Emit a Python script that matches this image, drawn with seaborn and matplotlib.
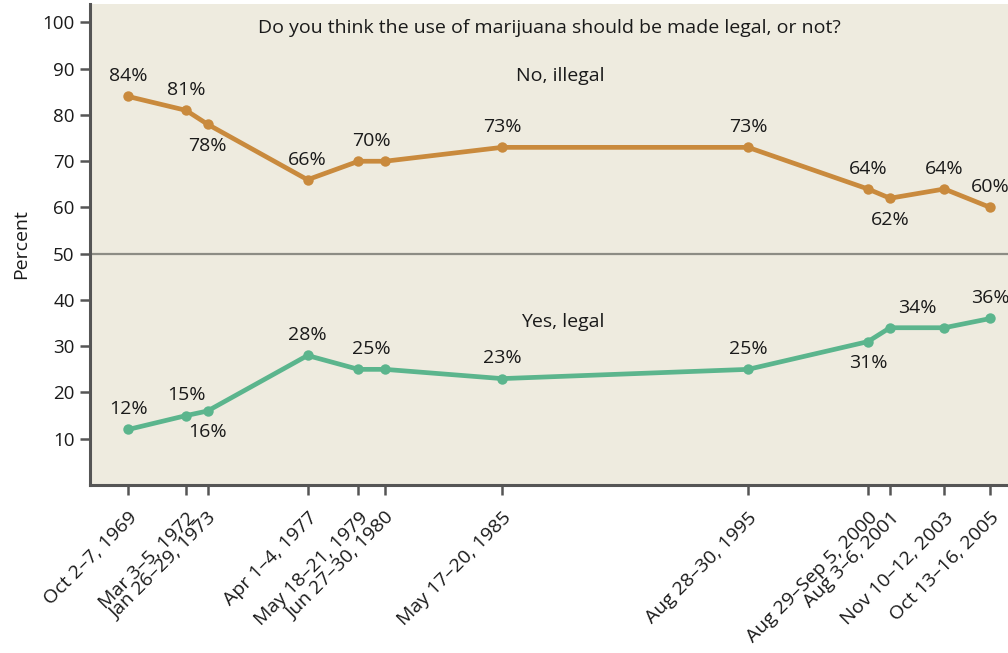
import matplotlib
matplotlib.use("Agg")
import matplotlib.pyplot as plt
import seaborn as sns
import pandas as pd
import numpy as np

# ---- data ----
date_labels = ["Oct 2\u20137, 1969", "Mar 3\u20135, 1972", "Jan 26\u201329, 1973",
               "Apr 1\u20134, 1977", "May 18\u201321, 1979", "Jun 27\u201330, 1980",
               "May 17\u201320, 1985", "Aug 28\u201330, 1995", "Aug 29\u2013Sep 5, 2000",
               "Aug 3\u20136, 2001", "Nov 10\u201312, 2003", "Oct 13\u201316, 2005"]
survey_dates = ["1969-10-04", "1972-03-04", "1973-01-27", "1977-04-02", "1979-05-19",
                "1980-06-28", "1985-05-18", "1995-08-29", "2000-09-01", "2001-08-04",
                "2003-11-11", "2005-10-14"]
illegal = [84, 81, 78, 66, 70, 70, 73, 73, 64, 62, 64, 60]
legal = [12, 15, 16, 28, 25, 25, 23, 25, 31, 34, 34, 36]
series_names = ["No, illegal", "Yes, legal"]
title_text = "Do you think the use of marijuana should be made legal, or not?"
y_ticks = [10, 20, 30, 40, 50, 60, 70, 80, 90, 100]

# value labels: (point indices, placement)
illegal_labels = [([0], "up"), ([1], "up"), ([2], "down"), ([3], "up"), ([4, 5], "up"),
                  ([6], "up"), ([7], "up"), ([8], "up"), ([9], "down"), ([10], "up"), ([11], "up")]
legal_labels = [([0], "up"), ([1], "up"), ([2], "down"), ([3], "up"), ([4, 5], "up"),
                ([6], "up"), ([7], "up"), ([8], "down"), ([9, 10], "up"), ([11], "up")]

# ---- helpers ----
dts = pd.to_datetime(survey_dates)
def dec_year(d):
    start = pd.Timestamp(year=d.year, month=1, day=1)
    end = pd.Timestamp(year=d.year + 1, month=1, day=1)
    return d.year + (d - start) / (end - start)
xyear = np.array([dec_year(d) for d in dts])

df = pd.DataFrame({
    "x": np.concatenate([xyear, xyear]),
    "value": illegal + legal,
    "series": [series_names[0]] * len(illegal) + [series_names[1]] * len(legal),
})

ORANGE = "#C98A3D"
GREEN = "#5BB58D"
BG = "#EEEBDF"
DARK = "#555555"
TXT = "#1A1A1A"
FS = 14

sns.set_style("ticks")
plt.rcParams["font.family"] = ["Open Sans", "DejaVu Sans"]

fig = plt.figure(figsize=(10.08, 6.53), dpi=100)
ax = fig.add_axes([0.0893, 0.2573, 0.9107, 0.7366])
ax.set_facecolor(BG)

ax.axhline(50, color="#8C8C84", lw=1.6, zorder=1)

sns.lineplot(data=df, x="x", y="value", hue="series",
             palette={series_names[0]: ORANGE, series_names[1]: GREEN},
             marker="o", markersize=7.5, markeredgewidth=0, linewidth=3.4,
             legend=False, ax=ax, zorder=3)

ax.set_xlim(1968.16, 2006.52)
ax.set_ylim(0, 104)
ax.set_yticks(y_ticks)
ax.set_yticklabels([str(t) for t in y_ticks], fontsize=13.5, color=TXT)
ax.set_xticks(xyear)
ax.set_xticklabels(date_labels, rotation=45, ha="right", va="top",
                   rotation_mode="anchor", fontsize=FS, color=TXT)
ax.set_xlabel("")
ax.set_ylabel("Percent", fontsize=FS, color=TXT, labelpad=9)

for s in ["top", "right"]:
    ax.spines[s].set_visible(False)
for s in ["left", "bottom"]:
    ax.spines[s].set_color(DARK)
    ax.spines[s].set_linewidth(2.2)
ax.tick_params(axis="both", length=7, width=1.8, color=DARK)
ax.tick_params(axis="x", pad=10)
ax.tick_params(axis="y", pad=4)

def put_labels(vals, specs):
    for idxs, where in specs:
        xm = float(np.mean(xyear[idxs]))
        ym = float(np.max([vals[i] for i in idxs])) if where == "up" else float(np.min([vals[i] for i in idxs]))
        txt = f"{vals[idxs[0]]}%"
        dy = 8 if where == "up" else -9
        ax.annotate(txt, (xm, ym), xytext=(0, dy), textcoords="offset points",
                    ha="center", va="bottom" if where == "up" else "top",
                    fontsize=FS, color=TXT, zorder=5)

put_labels(illegal, illegal_labels)
put_labels(legal, legal_labels)

ax.text(0.5, 98.8, title_text, transform=ax.get_yaxis_transform(), ha="center",
        va="center", fontsize=FS, color=TXT)
ax.text(1987.8, 88.5, series_names[0], ha="center", va="center", fontsize=FS, color=TXT)
ax.text(1987.9, 35.2, series_names[1], ha="center", va="center", fontsize=FS, color=TXT)

fig.savefig("out.png", dpi=100, facecolor="white")
